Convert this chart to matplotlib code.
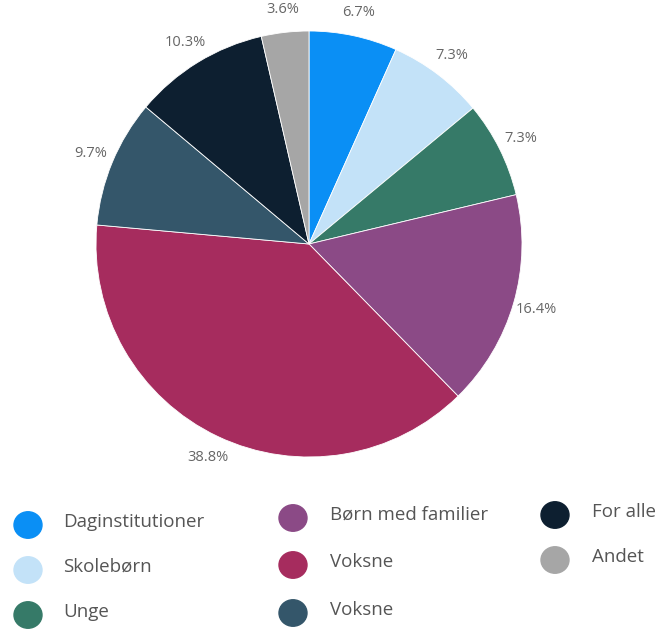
import matplotlib.pyplot as plt

# Data
categories = ["Daginstitutioner", "Skolebørn", "Unge", "Børn med familier",
              "Voksne", "Voksne", "For alle", "Andet"]
shares = [6.7, 7.3, 7.3, 16.4, 38.8, 9.7, 10.3, 3.6]
colors = ["#0a8ff5", "#c3e2f8", "#367a68", "#8b4a86",
          "#a62c5e", "#34566a", "#0d1f30", "#a6a6a6"]

plt.rcParams['font.family'] = ['Open Sans', 'DejaVu Sans']

W, H = 665, 629
fig = plt.figure(figsize=(W / 100, H / 100), dpi=100)

# pie centre (309, 244) px, radius 213 px
cx, cy, r = 309, 244, 213
ax = fig.add_axes([(cx - r) / W, 1 - (cy + r) / H, 2 * r / W, 2 * r / H])
wedges, texts = ax.pie(shares, colors=colors, startangle=90, counterclock=False,
                       labels=[f"{v:.1f}%" for v in shares], labeldistance=1.11,
                       wedgeprops=dict(edgecolor="white", linewidth=0.6),
                       textprops=dict(color="#666666", fontsize=10.5))
for t in texts:
    t.set_ha("center")
    t.set_va("center")
ax.set_xlim(-1, 1)
ax.set_ylim(-1, 1)
ax.set_aspect("equal")
ax.axis("off")

# legend layout (circle centre x, y in px, text start x)
legend_pos = [(28, 525, 63), (28, 570, 63), (28, 615, 63),
              (293, 518, 330), (293, 565, 330), (293, 613, 330),
              (555, 515, 592), (555, 560, 592)]
for (x, y, tx), name, c in zip(legend_pos, categories, colors):
    fig.patches.append(plt.Circle((x / W, 1 - y / H), 14 / W, color=c,
                                  transform=fig.transFigure, figure=fig))
    fig.text(tx / W, 1 - (y - 3) / H, name, color="#555555", fontsize=13.5,
             ha="left", va="center")

fig.savefig("out.png", dpi=100, facecolor="white")
